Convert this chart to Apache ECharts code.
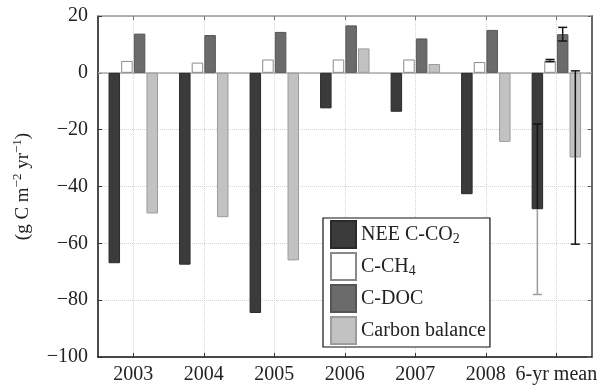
<!DOCTYPE html>
<html>
<head>
<meta charset="utf-8">
<style>
  html, body { margin: 0; padding: 0; background: #fff; }
  #chart { width: 600px; height: 388px; }
</style>
<script src="https://cdn.jsdelivr.net/npm/echarts@6/dist/echarts.min.js"></script>
</head>
<body>
<div id="chart"></div>
<script>
// Annual carbon budget components (g C m-2 yr-1)
const categories = ['2003', '2004', '2005', '2006', '2007', '2008', '6-yr mean'];
const neeCO2 = [-67, -67.5, -84.5, -12.5, -13.7, -42.7, -48];
const cCH4 = [4.2, 3.6, 4.7, 4.7, 4.7, 3.8, 4.3];
const cDOC = [13.8, 13.3, 14.4, 16.7, 12.1, 15.1, 13.6];
const carbonBalance = [-49.5, -50.8, -66, 8.6, 3.1, -24.3, -29.8];
// spread of the 6-year means, one per component
const meanErrors = [30, 0.4, 2.4, 30.5];
const seriesNames = ['NEE C-CO2', 'C-CH4', 'C-DOC', 'Carbon balance'];
const yTicks = { min: -100, max: 20, step: 20 };

const FONT = '"Liberation Serif", "Times New Roman", "DejaVu Serif", serif';
const BAR_W = 11.5;
const BAR_GAP = 0.1; // fraction of bar width

function barOffset(k) {
  const gap = BAR_W * BAR_GAP;
  const total = 4 * BAR_W + 3 * gap;
  return -total / 2 + BAR_W / 2 + k * (BAR_W + gap);
}

const styles = [
  { color: '#3b3b3b', borderColor: '#2a2a2a' },
  { color: '#ffffff', borderColor: '#8a8a8a' },
  { color: '#6b6b6b', borderColor: '#555555' },
  { color: '#c2c2c2', borderColor: '#9c9c9c' }
];
const errColors = [
  ['#151515', '#9c9c9c'],
  ['#151515', '#151515'],
  ['#151515', '#151515'],
  ['#151515', '#151515']
];

const values = [neeCO2, cCH4, cDOC, carbonBalance];
const lastIdx = categories.length - 1;
const errData = values.map((arr, k) => [lastIdx, arr[lastIdx], meanErrors[k], k]);

const legendText = {
  'NEE C-CO2': '{t|NEE C-CO}{sub|2}',
  'C-CH4': '{t|C-CH}{sub|4}',
  'C-DOC': '{t|C-DOC}',
  'Carbon balance': '{t|Carbon balance}'
};

const barSeries = values.map((arr, k) => {
  const s = {
    name: seriesNames[k],
    type: 'bar',
    data: arr,
    barWidth: BAR_W,
    barGap: (BAR_GAP * 100) + '%',
    itemStyle: { color: styles[k].color, borderColor: styles[k].borderColor, borderWidth: 1 },
    z: 2
  };
  if (k === 0) {
    s.markLine = {
      silent: true,
      symbol: 'none',
      label: { show: false },
      lineStyle: { color: '#ababab', width: 1.5, type: 'solid' },
      data: [{ yAxis: 0 }],
      z: 1
    };
  }
  return s;
});

const errorSeries = {
  type: 'custom',
  name: 'mean spread',
  z: 5,
  data: errData,
  encode: { x: 0, y: 1 },
  renderItem: function (params, api) {
    const cat = api.value(0);
    const val = api.value(1);
    const err = api.value(2);
    const k = api.value(3);
    const x = api.coord([cat, val])[0] + barOffset(k);
    const yMid = api.coord([cat, val])[1];
    const yTop = api.coord([cat, val + err])[1];
    const yBot = api.coord([cat, val - err])[1];
    const cap = 4.5;
    const up = errColors[k][0], lo = errColors[k][1];
    const lw = 1.5;
    return {
      type: 'group',
      children: [
        { type: 'line', shape: { x1: x, y1: yTop, x2: x, y2: yMid }, style: { stroke: up, lineWidth: lw } },
        { type: 'line', shape: { x1: x, y1: yMid, x2: x, y2: yBot }, style: { stroke: lo, lineWidth: lw } },
        { type: 'line', shape: { x1: x - cap, y1: yTop, x2: x + cap, y2: yTop }, style: { stroke: up, lineWidth: lw } },
        { type: 'line', shape: { x1: x - cap, y1: yBot, x2: x + cap, y2: yBot }, style: { stroke: lo, lineWidth: lw } }
      ]
    };
  }
};

const minus = v => String(v).replace('-', '\u2212');

const option = {
  animation: false,
  backgroundColor: '#ffffff',
  grid: { left: 98, right: 6, top: 16, bottom: 31, containLabel: false },
  legend: {
    data: seriesNames,
    orient: 'vertical',
    left: 323,
    top: 218,
    icon: 'rect',
    itemWidth: 25,
    itemHeight: 27,
    itemGap: 3,
    padding: [2, 4, 2, 7],
    borderColor: '#111',
    borderWidth: 1.2,
    borderRadius: 0,
    backgroundColor: '#ffffff',
    selectedMode: false,
    formatter: name => legendText[name],
    textStyle: {
      fontFamily: FONT,
      color: '#222',
      fontSize: 20,
      rich: {
        t: { fontFamily: FONT, fontSize: 20, color: '#222', lineHeight: 24 },
        sub: { fontFamily: FONT, fontSize: 14, color: '#222', lineHeight: 14, verticalAlign: 'bottom' }
      }
    }
  },
  xAxis: [
    {
      type: 'category',
      data: categories,
      position: 'bottom',
      axisLine: { show: true, onZero: false, lineStyle: { color: '#111', width: 1.5 } },
      axisTick: { show: true, inside: true, length: 4, alignWithLabel: true, lineStyle: { color: '#333' } },
      axisLabel: { interval: 0, fontFamily: FONT, fontSize: 20, color: '#222', margin: 8 },
      splitLine: { show: true, interval: 0, alignWithLabel: true, lineStyle: { color: '#d4d4d4', type: 'dotted', width: 1 } }
    },
    {
      type: 'category',
      data: categories,
      position: 'top',
      axisLine: { show: true, onZero: false, lineStyle: { color: '#9a9a9a', width: 1.5 } },
      axisTick: { show: true, interval: 0, inside: true, length: 4, alignWithLabel: true, lineStyle: { color: '#777' } },
      axisLabel: { show: false },
      splitLine: { show: false }
    }
  ],
  yAxis: [
    {
      type: 'value',
      min: yTicks.min,
      max: yTicks.max,
      interval: yTicks.step,
      position: 'left',
      name: '{t|(g C m}{s|\u22122}{t| yr}{s|\u22121}{t|)}',
      nameLocation: 'middle',
      nameGap: 63,
      nameTextStyle: {
        fontFamily: FONT,
        fontSize: 19,
        color: '#222',
        rich: {
          t: { fontFamily: FONT, fontSize: 19, color: '#222', lineHeight: 24 },
          s: { fontFamily: FONT, fontSize: 13, color: '#222', lineHeight: 13, verticalAlign: 'top' }
        }
      },
      axisLine: { show: true, onZero: false, lineStyle: { color: '#111', width: 1.5 } },
      axisTick: { show: true, inside: true, length: 4, lineStyle: { color: '#333' } },
      axisLabel: { fontFamily: FONT, fontSize: 20, color: '#222', margin: 10, formatter: minus },
      splitLine: { show: true, lineStyle: { color: '#d4d4d4', type: 'dotted', width: 1 } }
    },
    {
      type: 'value',
      min: yTicks.min,
      max: yTicks.max,
      interval: yTicks.step,
      position: 'right',
      axisLine: { show: true, onZero: false, lineStyle: { color: '#6a6a6a', width: 2 } },
      axisTick: { show: true, inside: true, length: 4, lineStyle: { color: '#666' } },
      axisLabel: { show: false },
      splitLine: { show: false }
    }
  ],
  series: barSeries.concat([errorSeries])
};

const chart = echarts.init(document.getElementById('chart'), null, { renderer: 'canvas' });
chart.setOption(option);
</script>
</body>
</html>
